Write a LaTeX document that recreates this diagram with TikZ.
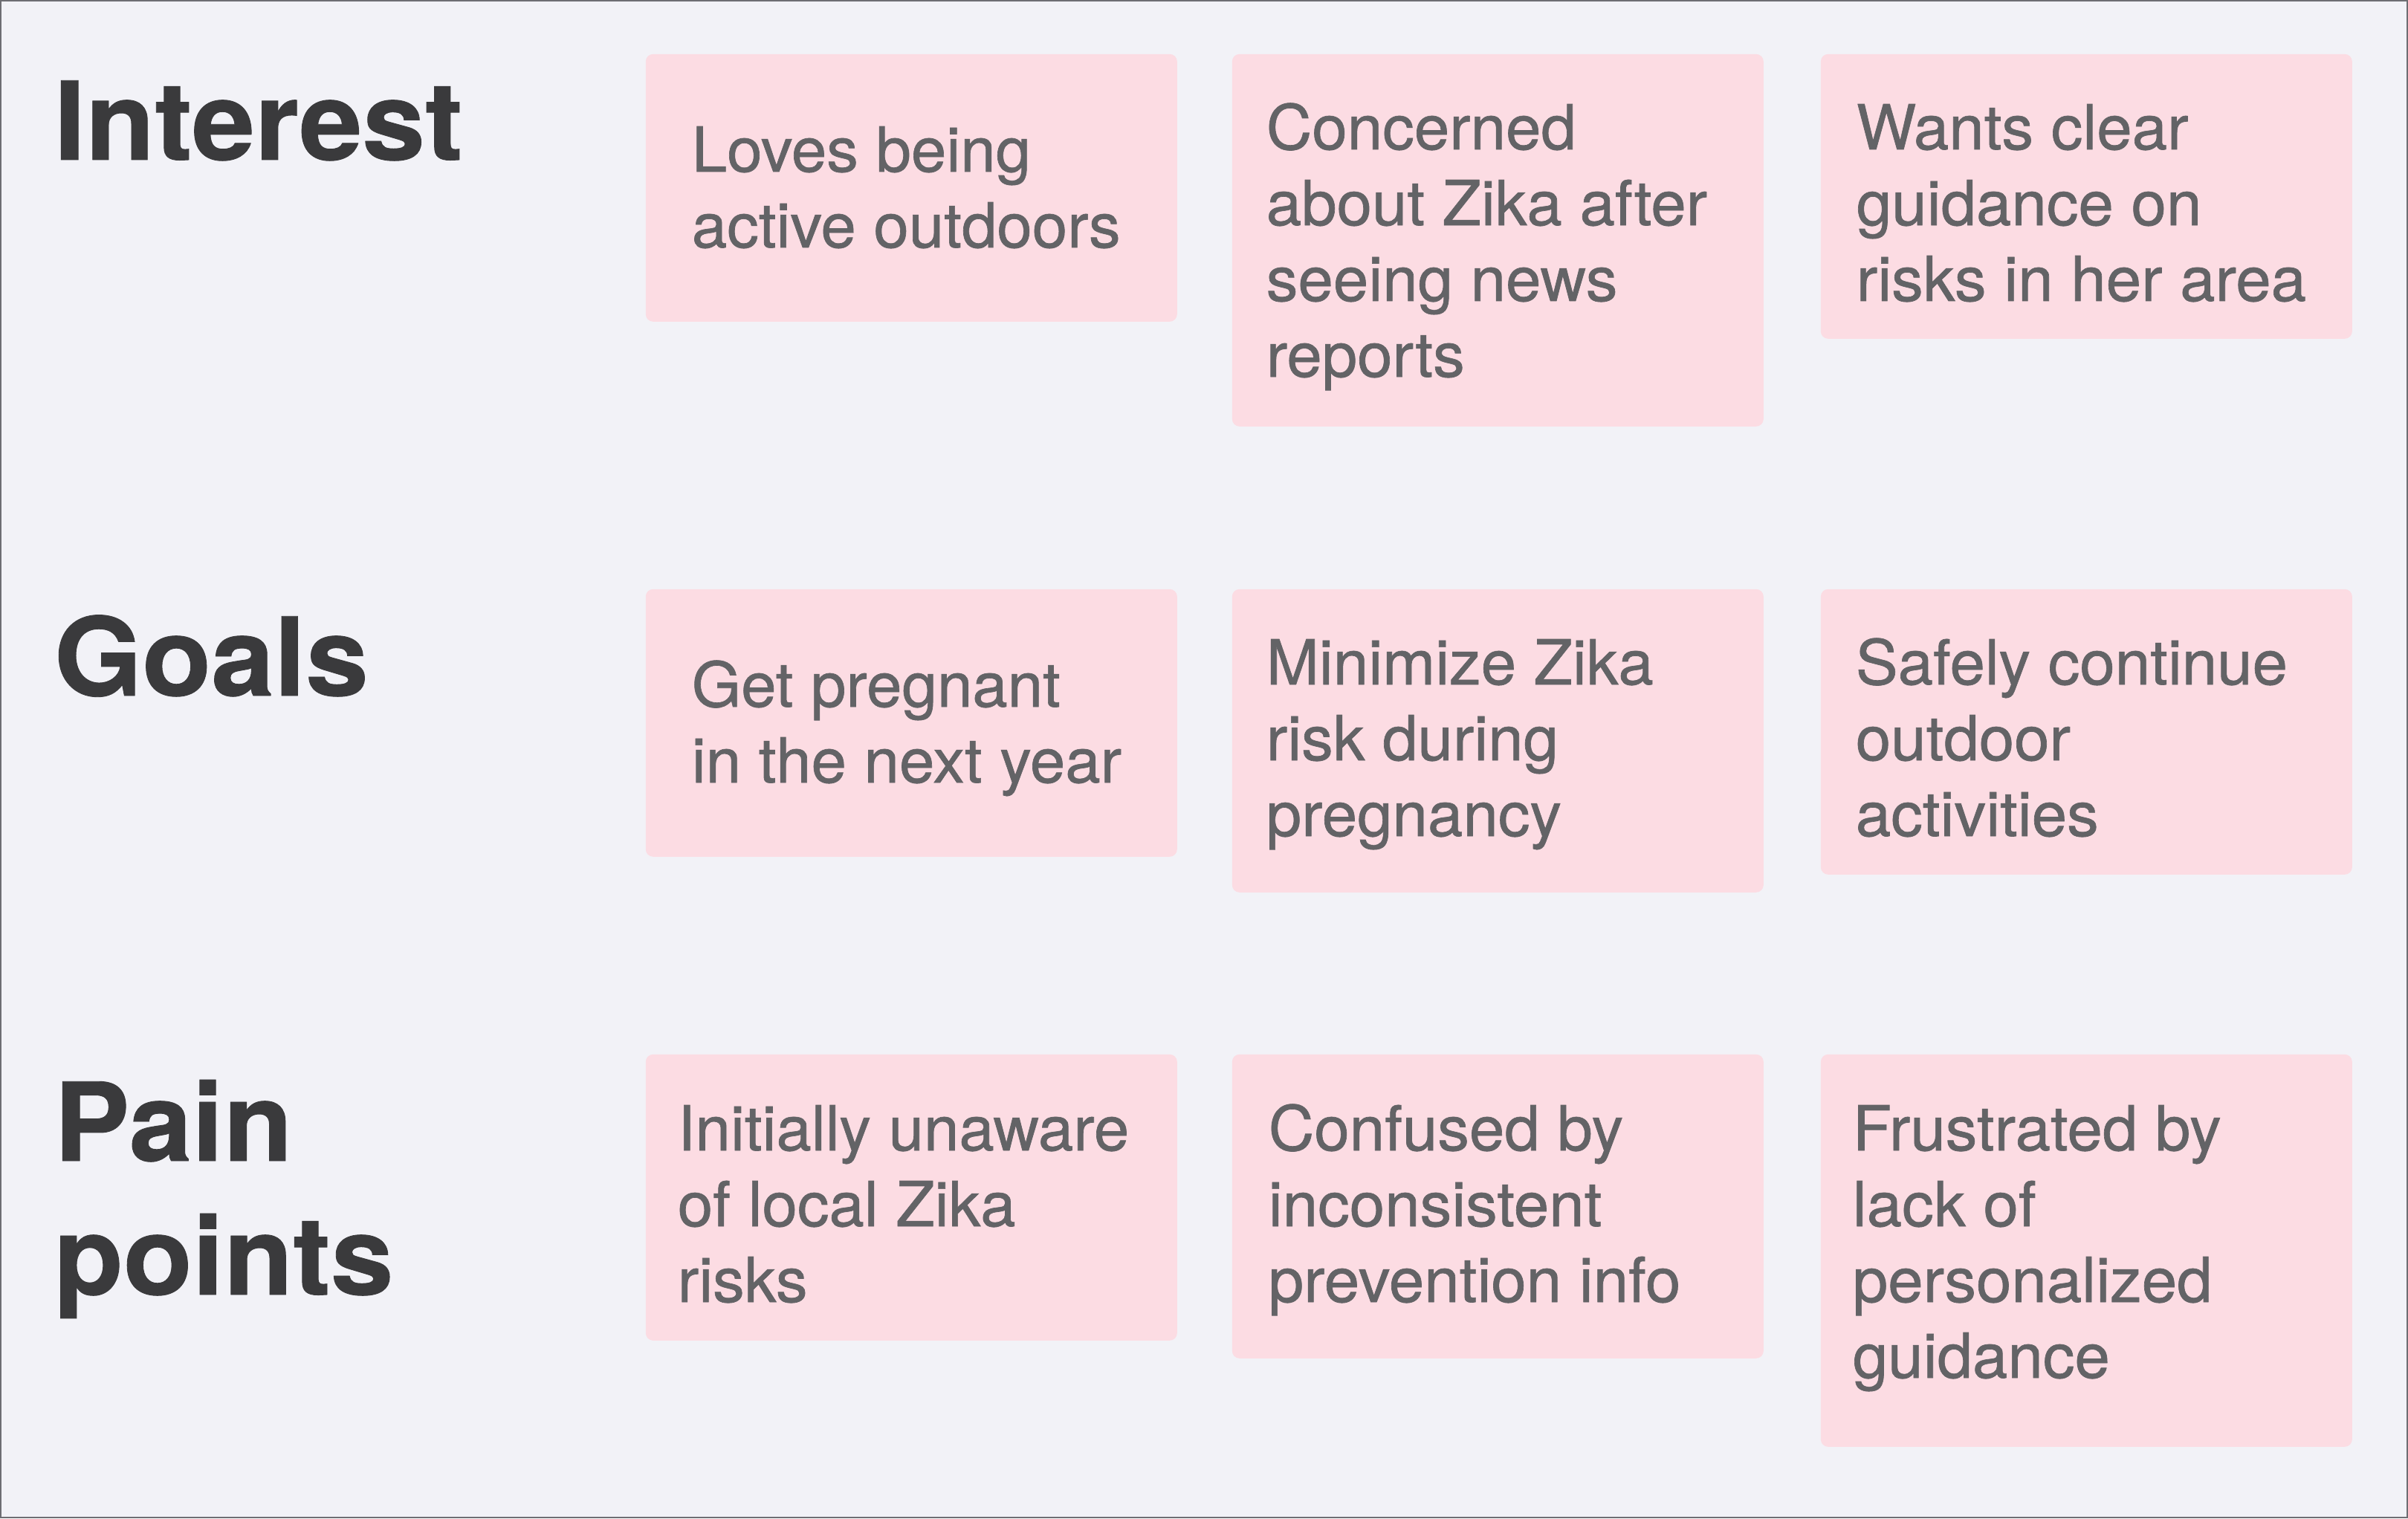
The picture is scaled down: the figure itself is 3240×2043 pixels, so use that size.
\documentclass[tikz,border=0pt]{standalone}
\usepackage{fontspec}
\setmainfont{TeX Gyre Heros}
\newfontfamily\cardfont{TeX Gyre Heros}[FakeStretch=1.02, BoldFont={TeX Gyre Heros}, BoldFeatures={FakeBold=0.8}]
\newfontfamily\headfont{TeX Gyre Heros}[FakeStretch=1.04, BoldFeatures={FakeBold=0.6}]
\definecolor{bgcol}{HTML}{F2F2F7}
\definecolor{framecol}{HTML}{6E6E73}
\definecolor{cardfill}{HTML}{FCDCE3}
\definecolor{bodytext}{HTML}{636366}
\definecolor{headtext}{HTML}{3A3A3C}
\tikzset{
  cardbox/.style={fill=cardfill, draw=none, rounded corners=2.5pt, anchor=north west,
    inner sep=0pt, minimum width=178.75pt},
  cardtext/.style={anchor=base west, inner sep=0pt, align=left, text=bodytext,
    font=\cardfont\bfseries\fontsize{20.9}{25.5}\selectfont},
  heading/.style={anchor=base west, inner sep=0pt, align=left, text=headtext,
    font=\headfont\bfseries\fontsize{36.6}{45}\selectfont},
}
\begin{document}
\begin{tikzpicture}[x=0.25pt,y=-0.25pt]
\fill[bgcol] (0,0) rectangle (3240,2043);
\draw[framecol, line width=0.5pt] (1,1) rectangle (3239,2042);
\useasboundingbox (0,0) rectangle (3240,2043);

% headings (anchor = baseline of the last line)
\node[heading] (hint) at (72,215) {Interest};
\node[heading] (hgoal) at (72,936) {Goals};
\node[heading] (hpain) at (72,1742) {Pain\\points};

% cards row 1
\node[cardbox, minimum height=90pt] (c11) at (868,72) {};
\node[cardbox, minimum height=125.25pt] (c12) at (1657,72) {};
\node[cardbox, minimum height=95.75pt] (c13) at (2449,72) {};
% cards row 2
\node[cardbox, minimum height=90pt] (c21) at (868,792) {};
\node[cardbox, minimum height=102pt] (c22) at (1657,792) {};
\node[cardbox, minimum height=96pt] (c23) at (2449,792) {};
% cards row 3
\node[cardbox, minimum height=96.25pt] (c31) at (868,1418) {};
\node[cardbox, minimum height=102.25pt] (c32) at (1657,1418) {};
\node[cardbox, minimum height=132pt] (c33) at (2449,1418) {};

% texts (anchor = baseline of the last line)
\node[cardtext] (t11) at (930,333) {Loves being\\active outdoors};
\node[cardtext] (t12) at (1703,507) {Concerned\\about Zika after\\seeing news\\reports};
\node[cardtext] (t13) at (2497,405) {Wants clear\\guidance on\\risks in her area};
\node[cardtext] (t21) at (930,1053) {Get pregnant\\in the next year};
\node[cardtext] (t22) at (1703,1125) {Minimize Zika\\risk during\\pregnancy};
\node[cardtext] (t23) at (2496,1125) {Safely continue\\outdoor\\activities};
\node[cardtext] (t31) at (911,1752) {Initially unaware\\of local Zika\\risks};
\node[cardtext] (t32) at (1706,1752) {Confused by\\inconsistent\\prevention info};
\node[cardtext] (t33) at (2492,1854) {Frustrated by\\lack of\\personalized\\guidance};
\end{tikzpicture}
\end{document}
